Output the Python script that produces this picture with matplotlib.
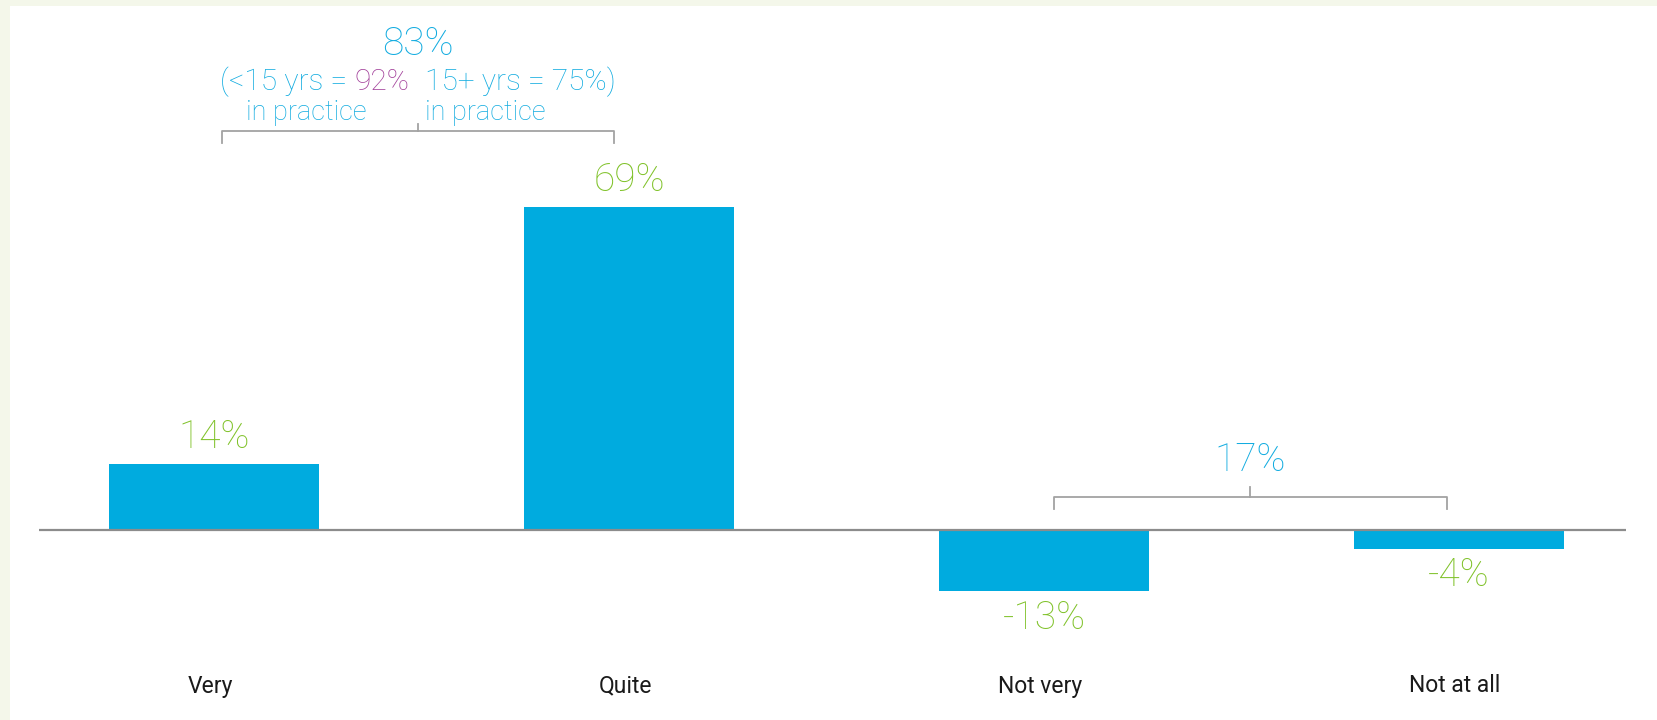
"""Confidence bar chart with bracketed totals."""

import matplotlib.pyplot as plt
from matplotlib.patches import Rectangle

categories = ["Very", "Quite", "Not very", "Not at all"]
values = [14, 69, -13, -4]
value_labels = ["14%", "69%", "-13%", "-4%"]

confident_total = "83%"
confident_split = ["(<15 yrs = ", "92%", "15+ yrs = 75%)"]
not_confident_total = "17%"

BAR_BLUE = "#00abdf"
TEXT_BLUE = "#13ace0"
GREEN = "#80c22a"
PURPLE = "#a2409a"
GREY = "#a3a3a3"
PAGE = "#f4f7ea"

plt.rcParams["font.family"] = ["Roboto", "DejaVu Sans"]

fig = plt.figure(figsize=(16.58, 7.2), dpi=100)
fig.patch.set_facecolor(PAGE)
fig.patches.append(Rectangle((10 / 1658, 0), 1, 1 - 6 / 720, transform=fig.transFigure,
                             facecolor="white", edgecolor="none", zorder=-5))

# axes spans the baseline; y maps 4.68 px per percent, zero at y=530px
x0, x1 = 39 / 1658, 1626 / 1658
ax = fig.add_axes([x0, 0, x1 - x0, 1], zorder=2)
ax.set_xlim(-0.4217, 3.4024)
ax.set_ylim(-190 / 4.68, 530 / 4.68)
ax.axis("off")

xs = range(len(categories))
ax.bar(xs, values, width=0.505, color=BAR_BLUE, zorder=2)
ax.axhline(0, color="#8c8c8c", lw=1.6, zorder=3)

for x, v, lab in zip(xs, values, value_labels):
    off = 27 if v >= 0 else -27
    ax.annotate(lab, (x, v), xytext=(0, off), textcoords="offset pixels",
                ha="center", va="center", fontsize=28, color=GREEN, fontweight="light")

for x, cat in zip(xs, categories):
    ax.annotate(cat, (x, 0), xytext=(-4, -156), textcoords="offset pixels",
                ha="center", va="center", fontsize=16.5, color="#1a1a1a")


def bracket(xl, xr, y, drop, rise):
    xm = (xl + xr) / 2
    ax.plot([xl, xl, xr, xr], [y - drop, y, y, y - drop], color=GREY, lw=1.3)
    ax.plot([xm, xm], [y, y + rise], color=GREY, lw=1.3)
    return xm


xm = bracket(0.02, 0.965, 85.3, 2.6, 1.5)
ax.text(xm, 103.8, confident_total, ha="center", va="center", fontsize=28,
        color=TEXT_BLUE, fontweight="light")
t92 = ax.annotate(confident_split[1], (xm, 95.7), xytext=(-9, 0), textcoords="offset pixels",
                  ha="right", va="center", fontsize=21.5, color=PURPLE, fontweight="light")
ax.annotate(confident_split[0], xy=(0, 0.5), xycoords=t92, ha="right", va="center",
            fontsize=21.5, color=TEXT_BLUE, fontweight="light")
ax.annotate(confident_split[2], (xm, 95.7), xytext=(7, 0), textcoords="offset pixels",
            ha="left", va="center", fontsize=21.5, color=TEXT_BLUE, fontweight="light")
ax.annotate("in practice", (xm, 89.3), xytext=(-52, 0), textcoords="offset pixels",
            ha="right", va="center", fontsize=19.5, color=TEXT_BLUE, fontweight="light")
ax.annotate("in practice", (xm, 89.3), xytext=(7, 0), textcoords="offset pixels",
            ha="left", va="center", fontsize=19.5, color=TEXT_BLUE, fontweight="light")

xm2 = bracket(2.025, 2.97, 7.05, 2.6, 2.1)
ax.text(xm2, 15, not_confident_total, ha="center", va="center", fontsize=28,
        color=TEXT_BLUE, fontweight="light")

fig.savefig("out.png", dpi=100, facecolor=fig.get_facecolor())
